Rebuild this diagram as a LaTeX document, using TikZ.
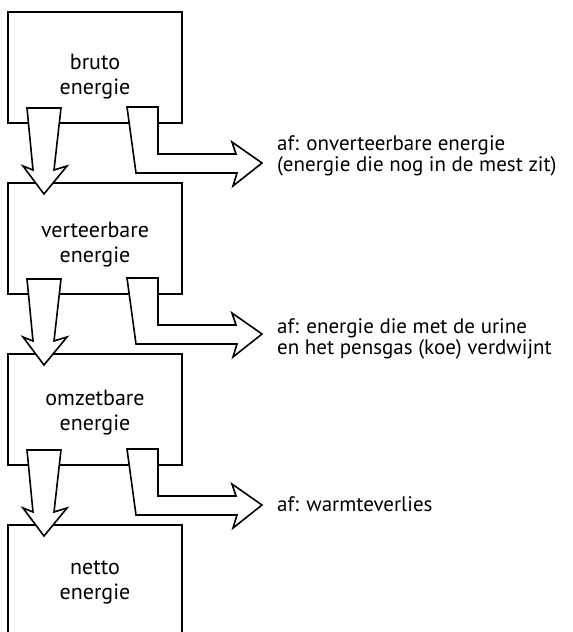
\documentclass[tikz,border=0pt]{standalone}
\usepackage{fontspec}
\setmainfont{PT Sans}
\usetikzlibrary{calc}

\begin{document}
\begin{tikzpicture}[
    x=1pt,
    y=-1pt,
    blok/.style={draw,line width=1.8pt,minimum width=174pt,minimum height=111pt,
        inner sep=0pt,outer sep=0pt},
    bloktekst/.style={align=center,inner sep=0pt,font=\fontsize{22}{25}\selectfont},
    aftekst/.style={anchor=west,align=left,inner sep=0pt,font=\fontsize{21}{21.5}\selectfont},
    pijl/.style={draw,fill=white,line width=1.6pt,line join=miter}
]
    \useasboundingbox (0,0) rectangle (573,632);

    \node[blok] (bruto) at (95,67.5) {};
    \node[blok] (verteerbaar) at (95,238.5) {};
    \node[blok] (omzetbaar) at (95,409.5) {};
    \node[blok] (netto) at (95,580.5) {};

    \node[bloktekst] (tbruto) at (95,77) {bruto\\energie};
    \node[bloktekst] (tverteerbaar) at (95,245) {verteerbare\\energie};
    \node[bloktekst] (tomzetbaar) at (95,413) {omzetbare\\energie};
    \node[bloktekst] (tnetto) at (95,582) {netto\\energie};

    \node[aftekst] (af1) at (277,156)
        {af: onverteerbare energie\\(energie die nog in de mest zit)};
    \node[aftekst] (af2) at (277,339)
        {af: energie die met de urine\\en het pensgas (koe) verdwijnt};
    \node[aftekst] (af3) at (277,504) {af: warmteverlies};

    % dikke pijlen omlaag en opzij
    \foreach \van/\naar in {bruto/verteerbaar,verteerbaar/omzetbaar,omzetbaar/netto} {
        \draw[pijl] ($(\van.south west)+(19,-15)$) -- ($(\van.south west)+(53,-15)$)
            -- ($(\van.south west)+(46,47)$) -- ($(\van.south west)+(59,43)$)
            -- ($(\naar.north west)+(36,11)$) -- ($(\van.south west)+(15,43)$)
            -- ($(\van.south west)+(25,47)$) -- cycle;
        \draw[pijl] ($(\van.south west)+(119,-16)$) -- ($(\van.south west)+(150,-16)$)
            -- ($(\van.south west)+(150,31)$) -- ($(\van.south west)+(228,31)$)
            -- ($(\van.south west)+(224,19)$) -- ($(\van.south west)+(254,40)$)
            -- ($(\van.south west)+(225,63)$) -- ($(\van.south west)+(229,50)$)
            -- ($(\van.south west)+(128,50)$) -- cycle;
    }
\end{tikzpicture}
\end{document}
